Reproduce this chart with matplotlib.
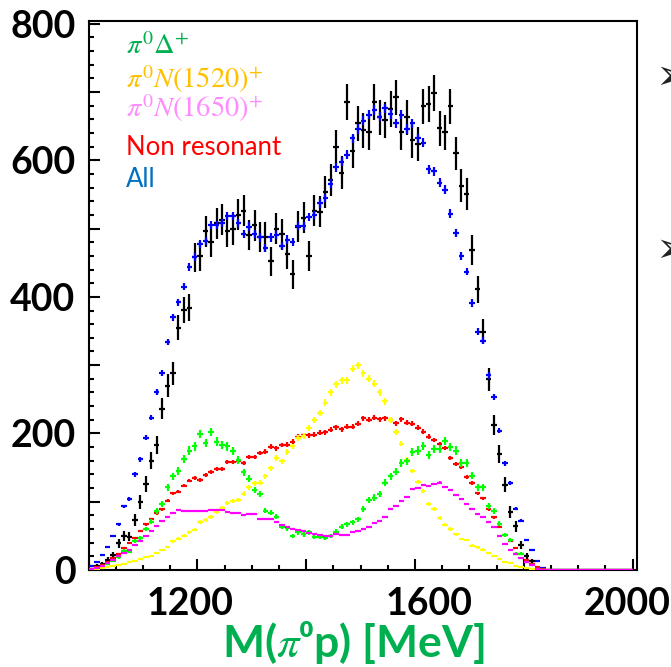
import numpy as np
import matplotlib
matplotlib.use("Agg")
import matplotlib.pyplot as plt
from matplotlib.ticker import MultipleLocator, NullFormatter
from matplotlib.transforms import ScaledTranslation

# ---------------- data (10 MeV bins starting at 1000 MeV) ----------------
bin_start = 1000
bin_width = 10
n_bins = 100

data = [0, 6, 9, 15, 22, 39, 50, 49, 73, 100,
        126, 160, 183, 236, 270, 288, 355, 381, 384, 458,
        460, 496, 481, 508, 513, 496, 499, 520, 526, 491,
        505, 488, 488, 452, 500, 492, 463, 433, 503, 516,
        460, 526, 525, 553, 571, 619, 582, 685, 613, 654,
        644, 641, 685, 663, 659, 675, 692, 641, 663, 629,
        624, 679, 682, 699, 647, 641, 679, 610, 563, 550,
        469, 411, 349, 279, 212, 170, 125, 85, 64, 37,
        21, 13]

all_fit = [6, 12, 22, 34, 50, 67, 93, 104.5, 140, 162,
           194, 223, 260, 289, 334, 370, 392, 415, 444, 458,
           477, 482, 505, 505, 508, 518, 518, 508, 492, 503,
           492, 487, 472, 487, 490, 474, 484, 481, 504, 504,
           517, 520, 537, 545, 566, 590, 598, 608, 632, 646,
           658, 667, 674, 664, 676, 668, 654, 667, 646, 654,
           632, 626, 587, 584, 567, 557, 522, 494, 460, 437,
           391, 349, 336, 285, 253, 204, 156, 128, 90, 72,
           44, 29, 13, 2.5, 0.5]

delta = [1, 3, 6, 9, 13, 18.6, 28, 27, 43, 47,
         60, 71, 86, 96, 121, 137, 145, 163, 175, 181,
         199, 186, 202, 188, 183, 181, 174, 161, 143, 134,
         117, 111, 87, 84, 78, 63.5, 61, 50, 55, 52,
         55, 49, 49, 47, 50, 56, 63.5, 67, 70, 74,
         89, 102, 106, 111, 128, 137, 144, 157, 159, 173,
         175, 182, 168, 177, 177, 189, 180, 175, 157, 157,
         138, 121, 121, 94, 86, 68, 51, 44, 24, 24,
         12, 7, 2]

n1520 = [0.5, 1.5, 3, 4.5, 6, 7, 9, 11, 13.5, 16,
         19.5, 21, 25, 29, 34, 42, 46, 50.5, 55.5, 59,
         70, 73, 78, 85, 91, 98.6, 101.6, 102, 112, 121,
         127, 128, 137, 149, 164, 159, 173, 181, 193, 196,
         208, 220, 230, 245, 260, 272, 278, 278, 295, 300,
         288, 280, 273, 260, 247, 220, 202, 185, 161, 145,
         129, 116, 97, 89, 76, 66.5, 60, 52.5, 45.5, 44,
         35.7, 33, 30, 25.5, 21, 15.6, 12.2, 9.8, 6.4, 5,
         2.5, 1]

n1650 = [1, 2.5, 6, 10, 15, 20, 25, 30, 36, 43,
         50, 57, 64, 72, 78, 84, 88, 87, 87, 87,
         86.5, 86, 87.5, 87.5, 88, 85, 84, 84, 81, 82,
         82, 75, 75, 74, 71, 66.5, 63.5, 60.5, 58, 56.5,
         53.5, 53, 51.5, 50, 50, 52, 51.5, 51.5, 56, 57,
         59.6, 63.5, 69.3, 72.3, 78, 89, 93, 101, 107.5, 118.7,
         120.6, 124.5, 123.5, 125.5, 128, 122, 117, 110, 104, 97,
         90, 82.5, 77.5, 70.5, 63.5, 50, 38, 30, 24, 17.3,
         11.5, 7, 2]

nonres = [1.5, 4, 8, 12, 17, 23.4, 31.7, 39, 46.4, 57,
          67, 74.7, 83, 89, 101.6, 112.4, 114.7, 123.5, 131, 135,
          132, 139, 144, 148, 148, 158.7, 158.7, 160, 157, 165,
          166, 171.5, 173.5, 180.7, 178.2, 183, 183.5, 188, 195.3, 197,
          197, 198.3, 201.2, 201.5, 205.5, 208.7, 206, 210, 210, 214.5,
          222, 220, 223, 221, 222, 220, 215, 221, 216, 214,
          208.5, 202.6, 195.3, 190.5, 184, 178.3, 164.5, 155.3, 151.4, 136.7,
          127, 112.4, 105, 89, 77, 63, 51, 42.5, 31.7, 23,
          14.6, 9, 4, 1]

legend_labels = [r"$\pi^0\Delta^{+}$", r"$\pi^0 N(1520)^{+}$", r"$\pi^0 N(1650)^{+}$",
                 "Non resonant", "All"]
x_tick_labels = ["1200", "1600", "2000"]
x_tick_values = [1200, 1600, 2000]
y_tick_values = [0, 200, 400, 600, 800]
x_label = "M(" + r"$\pi$" + "\u2070p) [MeV]"

# ---------------- helpers ----------------
def pad(vals):
    v = np.zeros(n_bins)
    v[:len(vals)] = vals
    return v

centers = bin_start + bin_width * (np.arange(n_bins) + 0.5)
half_w = bin_width / 2

plt.rcParams['mathtext.fontset'] = 'stix'

W, H = 671, 667
fig = plt.figure(figsize=(W / 100, H / 100), dpi=100)
ax = fig.add_axes([88.7 / W, (H - 570) / H, (637 - 88.7) / W, (570 - 21) / H])

# data points (Poisson errors)
d = pad(data)
mask = d > 0
ax.errorbar(centers[mask], d[mask], xerr=half_w, yerr=np.sqrt(d[mask]), fmt='none',
            ecolor='black', elinewidth=1.6, capsize=0, zorder=3)

# model components (MC statistical errors)
models = [(all_fit, '#0000FF', 0.27, 4),
          (nonres, '#FF0000', 0.24, 5),
          (n1520, '#FFFF00', 0.30, 6),
          (delta, '#00FF00', 0.45, 7),
          (n1650, '#FF00FF', 0.15, 8)]
for vals, col, frac, z in models:
    v = pad(vals)
    ax.errorbar(centers, v, xerr=half_w, yerr=frac * np.sqrt(v), fmt='none',
                ecolor=col, elinewidth=1.6, capsize=0, zorder=z)

ax.set_xlim(1000, 2008)
ax.set_ylim(0, 804)

for s in ax.spines.values():
    s.set_linewidth(1.5)
    s.set_color('black')

ax.xaxis.set_major_locator(MultipleLocator(200))
ax.xaxis.set_minor_locator(MultipleLocator(50))
ax.yaxis.set_major_locator(MultipleLocator(100))
ax.yaxis.set_minor_locator(MultipleLocator(20))
ax.tick_params(which='both', direction='in', top=False, right=False, width=1.5)
ax.tick_params(which='major', length=8)
ax.tick_params(which='minor', length=3.6)
ax.tick_params(axis='y', which='major', pad=9.5, labelsize=27)
ax.yaxis.set_major_formatter(plt.FuncFormatter(
    lambda v, p: f"{int(round(v))}" if int(round(v)) in y_tick_values else ""))
for lab in ax.get_yticklabels():
    lab.set_fontfamily('Lato')
    lab.set_fontweight('bold')

ax.xaxis.set_major_formatter(NullFormatter())
xtick_dx = [-7, 14, -6]
for val, lab, dx in zip(x_tick_values, x_tick_labels, xtick_dx):
    ax.text(val, 0, lab,
            transform=ax.get_xaxis_transform() + ScaledTranslation(dx / 100, -45 / 100, fig.dpi_scale_trans),
            ha='center', va='baseline', fontsize=27, fontfamily='Lato', fontweight='bold',
            color='black')

# axis title
fig.text(353 / W, 1 - 657 / H, x_label, ha='center', va='baseline', fontsize=32,
         fontfamily='Lato', fontweight='bold', color='#00B050')

# legend-like labels
leg_colors = ['#00B050', '#FFC000', '#FF8CFF', '#FF0000', '#0070C0']
leg_base = [54, 88, 117, 155, 187]
for lab, col, yb in zip(legend_labels, leg_colors, leg_base):
    if lab.startswith('$'):
        fig.text(126 / W, 1 - yb / H, lab, ha='left', va='baseline', fontsize=20.5, color=col)
    else:
        fig.text(126 / W, 1 - yb / H, lab, ha='left', va='baseline', fontsize=18.5,
                 fontfamily='Lato', color=col)

# slide bullets cut at the right edge (as on the source slide)
for yc in [77, 250]:
    fig.text(655 / W, 1 - yc / H, "\u27A2", ha='left', va='center', fontsize=30,
             fontfamily='DejaVu Sans', color='#222222')

fig.savefig("out.png", dpi=100)
